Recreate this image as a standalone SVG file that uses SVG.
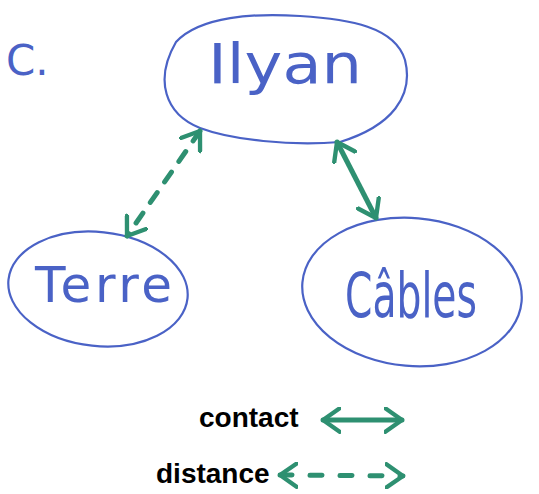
<svg xmlns="http://www.w3.org/2000/svg" width="539" height="494" viewBox="0 0 539 494">
<defs>
<style>
.node{fill:none;stroke:#4a62c6;stroke-width:2.2}
.hand{font-family:"DejaVu Sans","Liberation Sans",sans-serif;font-weight:normal;fill:#4a62c6}
.conn{fill:none;stroke:#2e9071;stroke-width:5;stroke-linecap:round}
.dash{stroke-dasharray:12 13}
.leg{font-family:"Liberation Sans",Arial,sans-serif;font-weight:bold;font-size:28px;fill:#000}
</style>
<marker id="ah" viewBox="0 0 12 16" refX="11" refY="8" markerWidth="4" markerHeight="5.4" orient="auto-start-reverse" markerUnits="strokeWidth">
<path d="M1,1 L11,8 L1,15" fill="none" stroke="#2e9071" stroke-width="2.6" stroke-linecap="round" stroke-linejoin="round"/>
</marker>
</defs>
<rect width="539" height="494" fill="#fff"/>
<text x="6" y="75" class="hand" font-size="42">C.</text>
<g id="ilyan">
<path class="node" d="M176,42 C200,16 255,13 300,16 C350,19 395,27 405,60 C414,96 392,126 340,142 C290,146 232,140 200,128 C165,114 154,80 176,42 Z"/>
<text x="208" y="83" class="hand" font-size="56" textLength="154" lengthAdjust="spacingAndGlyphs">Ilyan</text>
</g>
<g id="terre">
<ellipse class="node" cx="98" cy="289" rx="90" ry="57" transform="rotate(6 98 289)"/>
<text x="35" y="302" class="hand" font-size="50" textLength="137" lengthAdjust="spacing">Terre</text>
</g>
<g id="cables">
<ellipse class="node" cx="412" cy="292" rx="110" ry="74" transform="rotate(5 412 292)"/>
<text transform="translate(345 317) scale(1 1.35)" x="0" y="0" class="hand" font-size="46" textLength="132" lengthAdjust="spacingAndGlyphs">Câbles</text>
</g>
<g id="connectors">
<line class="conn dash" x1="200" y1="131" x2="127" y2="236" marker-start="url(#ah)" marker-end="url(#ah)"/>
<line class="conn" x1="337" y1="142" x2="376" y2="218" marker-start="url(#ah)" marker-end="url(#ah)"/>
</g>
<g id="legend">
<text x="199" y="427" class="leg">contact</text>
<line class="conn" x1="323" y1="420" x2="402" y2="420" marker-start="url(#ah)" marker-end="url(#ah)"/>
<text x="156" y="483" class="leg">distance</text>
<line class="conn" x1="280" y1="475" x2="403" y2="476" stroke-dasharray="12 18" marker-start="url(#ah)" marker-end="url(#ah)"/>
</g>
</svg>
